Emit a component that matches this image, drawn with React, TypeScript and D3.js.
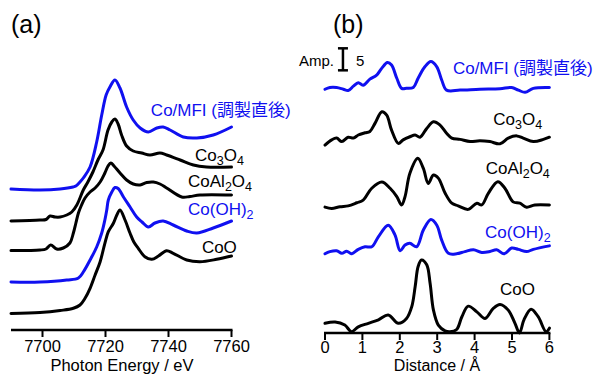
import * as d3 from 'd3';
import React from 'react';

// ---- (a) XANES, energy (eV) vs stacked normalized absorbance ----
const xanesCoMFI: [number, number][] = [
  [7690, 1.41], [7699.2, 1.40], [7705.6, 1.41], [7709.7, 1.43], [7710.6, 1.44], [7711.9, 1.48],
  [7712.95, 1.52], [7715.1, 1.63], [7717.2, 1.88], [7718.8, 2.15], [7720.2, 2.35], [7721.4, 2.43],
  [7723.0, 2.50], [7724.6, 2.42], [7726.7, 2.23], [7728.8, 2.10], [7731.0, 2.02], [7733.6, 1.98],
  [7736.3, 2.02], [7738.3, 2.03], [7740.5, 2.00], [7744.7, 1.93], [7749.0, 1.92], [7754.2, 1.95],
  [7760, 2.03],
];
const xanesCo3O4: [number, number][] = [
  [7690, 1.09], [7699.2, 1.10], [7701.1, 1.105], [7702.4, 1.14], [7704.0, 1.13], [7705.6, 1.13],
  [7707.7, 1.15], [7709.3, 1.18], [7710.9, 1.25], [7712.95, 1.40], [7714.4, 1.48], [7716.0, 1.58],
  [7717.6, 1.70], [7719.2, 1.80], [7720.8, 2.00], [7722.0, 2.08], [7723.0, 2.11], [7724.0, 2.06],
  [7725.1, 1.95], [7726.7, 1.84], [7728.8, 1.79], [7731.5, 1.77], [7734.1, 1.75], [7737.3, 1.77],
  [7739.4, 1.75], [7743.7, 1.70], [7747.9, 1.65], [7752.1, 1.63], [7760, 1.63],
];
const xanesCoAl2O4: [number, number][] = [
  [7690, 0.795], [7699.2, 0.80], [7701.1, 0.81], [7702.6, 0.85], [7704.5, 0.81], [7706.6, 0.82],
  [7708.7, 0.87], [7709.8, 0.97], [7710.6, 1.07], [7711.4, 1.17], [7712.4, 1.25], [7713.5, 1.32],
  [7715.1, 1.38], [7716.7, 1.42], [7718.3, 1.48], [7719.8, 1.57], [7720.8, 1.64], [7721.7, 1.67],
  [7722.7, 1.64], [7724.6, 1.57], [7726.7, 1.50], [7728.8, 1.46], [7731.0, 1.45], [7733.1, 1.475],
  [7735.2, 1.48], [7737.3, 1.46], [7739.4, 1.42], [7744.2, 1.33], [7746.8, 1.335], [7750, 1.35],
  [7760, 1.35],
];
const xanesCoOH2: [number, number][] = [
  [7690, 0.48], [7699.2, 0.48], [7707.7, 0.50], [7711.4, 0.52], [7712.95, 0.58], [7715.1, 0.70],
  [7717.2, 0.83], [7718.8, 0.97], [7719.8, 1.10], [7720.4, 1.20], [7720.9, 1.30], [7722.0, 1.38],
  [7723.0, 1.425], [7724.0, 1.415], [7725.7, 1.33], [7727.8, 1.23], [7729.9, 1.13], [7731.6, 1.08],
  [7733.6, 1.03], [7735.7, 1.07], [7738.3, 1.09], [7741.5, 1.05], [7745.8, 0.99], [7749.0, 0.97],
  [7754.2, 1.02], [7760, 1.09],
];
const xanesCoO: [number, number][] = [
  [7690, 0.165], [7699.2, 0.175], [7705.6, 0.195], [7709.8, 0.217], [7711.9, 0.25], [7713.5, 0.317],
  [7715.1, 0.417], [7716.7, 0.55], [7718.3, 0.683], [7719.8, 0.867], [7720.9, 0.983], [7722.5, 1.067],
  [7723.6, 1.15], [7724.6, 1.20], [7726.2, 1.10], [7727.8, 0.967], [7729.0, 0.88], [7730.4, 0.817],
  [7732.5, 0.733], [7734.7, 0.707], [7736.8, 0.74], [7739.4, 0.793], [7741.5, 0.767], [7745.8, 0.70],
  [7750, 0.683], [7755.3, 0.707], [7760, 0.74],
];

// ---- (b) EXAFS FT, distance (Å) vs stacked amplitude ----
const ftCoMFI: [number, number][] = [
  [0, 55.4], [0.13, 55.8], [0.31, 55.8], [0.49, 55.4], [0.62, 55.1], [0.76, 56.1], [0.89, 56.9],
  [1.02, 56.3], [1.20, 57.7], [1.38, 58.6], [1.52, 60.2], [1.67, 61.5], [1.78, 60.9], [1.92, 57.9],
  [2.05, 55.6], [2.18, 55.6], [2.36, 55.8], [2.49, 57.9], [2.67, 60.5], [2.83, 61.7], [2.99, 60.5],
  [3.12, 57.5], [3.25, 55.2], [3.61, 55.2], [4.14, 55.4], [4.68, 55.5], [4.99, 55.8], [5.17, 55.2],
  [5.35, 54.7], [5.57, 55.6], [6.0, 55.8],
];
const ftCo3O4: [number, number][] = [
  [0, 42.7], [0.18, 43.9], [0.31, 44.3], [0.45, 43.5], [0.62, 44.5], [0.76, 44.3], [0.89, 45.0],
  [1.07, 45.5], [1.20, 45.8], [1.34, 47.7], [1.52, 50.3], [1.65, 49.5], [1.78, 46.1], [1.96, 43.1],
  [2.09, 43.9], [2.27, 44.6], [2.41, 45.0], [2.54, 44.5], [2.72, 46.5], [2.90, 48.0], [3.07, 47.3],
  [3.25, 45.4], [3.39, 44.3], [3.61, 44.0], [3.88, 43.5], [4.14, 43.7], [4.41, 43.5], [4.68, 43.0],
  [4.90, 44.3], [5.13, 44.8], [5.30, 44.3], [5.57, 43.5], [5.84, 44.0], [6.0, 44.5],
];
const ftCoAl2O4: [number, number][] = [
  [0, 28.6], [0.18, 28.3], [0.40, 28.7], [0.62, 28.9], [0.85, 29.6], [1.02, 30.2], [1.25, 32.9],
  [1.52, 34.3], [1.74, 32.9], [1.92, 31.0], [2.05, 29.1], [2.14, 31.0], [2.27, 36.3], [2.48, 39.7],
  [2.63, 37.4], [2.76, 34.0], [2.90, 35.9], [3.03, 35.2], [3.21, 31.8], [3.39, 29.5], [3.56, 28.9],
  [3.83, 28.1], [4.06, 29.5], [4.19, 29.1], [4.37, 31.8], [4.62, 34.4], [4.81, 32.9], [5.03, 29.8],
  [5.21, 29.5], [5.39, 28.6], [5.61, 29.1], [6.0, 29.1],
];
const ftCoOH2: [number, number][] = [
  [0, 18.0], [0.13, 18.5], [0.31, 18.7], [0.45, 18.1], [0.58, 18.6], [0.71, 18.0], [0.89, 19.0],
  [1.07, 19.6], [1.25, 19.6], [1.43, 21.9], [1.69, 24.5], [1.87, 22.3], [2.01, 18.7], [2.14, 20.0],
  [2.27, 20.4], [2.45, 19.6], [2.63, 23.4], [2.83, 25.8], [2.99, 24.5], [3.12, 21.1], [3.30, 18.1],
  [3.52, 18.0], [3.74, 18.5], [3.97, 18.9], [4.19, 18.3], [4.41, 18.5], [4.59, 18.9], [4.79, 18.0],
  [4.99, 19.3], [5.17, 19.0], [5.39, 18.5], [5.57, 19.0], [6.0, 19.8],
];
const ftCoO: [number, number][] = [
  [0, 2.2], [0.27, 2.5], [0.53, 1.8], [0.71, 0.3], [0.89, 1.4], [1.16, 2.2], [1.43, 3.0],
  [1.69, 4.1], [1.96, 2.2], [2.18, 3.3], [2.32, 6.0], [2.41, 10.5], [2.49, 15.1], [2.58, 16.6],
  [2.72, 15.5], [2.81, 11.3], [2.90, 5.2], [3.03, 1.8], [3.21, 0.5], [3.34, 0.3], [3.52, 0.8],
  [3.66, 3.7], [3.83, 6.1], [4.06, 4.8], [4.28, 3.3], [4.50, 5.6], [4.68, 6.5], [4.90, 5.2],
  [5.08, 2.2], [5.20, 0], [5.32, 3.0], [5.51, 5.4], [5.70, 3.7], [5.91, 0.3], [6.0, 1.1],
];

const energyTicks = [7700, 7720, 7740, 7760];
const distanceTicks = [0, 1, 2, 3, 4, 5, 6];
const ampBar = 5;

// label text: segments of [text, isSubscript]
type Seg = [string, boolean];
const labelCoMFI: Seg[] = [['Co/MFI (調製直後)', false]];
const labelCo3O4: Seg[] = [['Co', false], ['3', true], ['O', false], ['4', true]];
const labelCoAl2O4: Seg[] = [['CoAl', false], ['2', true], ['O', false], ['4', true]];
const labelCoOH2: Seg[] = [['Co(OH)', false], ['2', true]];
const labelCoO: Seg[] = [['CoO', false]];

const BLUE = '#1010f0';
const FONT = '"Liberation Sans", Arial, "Noto Sans CJK JP", sans-serif';

// series with label anchor points (data coords)
const xanesSeries = [
  { data: xanesCoMFI, color: BLUE, label: labelCoMFI, at: [7734.4, 2.14] },
  { data: xanesCo3O4, color: '#000', label: labelCo3O4, at: [7748.4, 1.69] },
  { data: xanesCoAl2O4, color: '#000', label: labelCoAl2O4, at: [7746.2, 1.43] },
  { data: xanesCoOH2, color: BLUE, label: labelCoOH2, at: [7746.2, 1.15] },
  { data: xanesCoO, color: '#000', label: labelCoO, at: [7750.6, 0.77] },
];
const ftSeries = [
  { data: ftCoMFI, color: BLUE, label: labelCoMFI, at: [3.42, 58.9] },
  { data: ftCo3O4, color: '#000', label: labelCo3O4, at: [4.5, 47.3] },
  { data: ftCoAl2O4, color: '#000', label: labelCoAl2O4, at: [4.3, 36.1] },
  { data: ftCoOH2, color: BLUE, label: labelCoOH2, at: [4.28, 21.5] },
  { data: ftCoO, color: '#000', label: labelCoO, at: [4.68, 8.6] },
];

function Label({ x, y, segs, color }: { x: number; y: number; segs: Seg[]; color: string }) {
  let shifted = false;
  return (
    <text x={x} y={y} fill={color} fontSize={17} fontFamily={FONT}>
      {segs.map(([t, sub], i) => {
        let dy = 0;
        if (sub && !shifted) { dy = 4; shifted = true; }
        else if (!sub && shifted) { dy = -4; shifted = false; }
        return (
          <tspan key={i} dy={dy} fontSize={sub ? 12.5 : 17}>{t}</tspan>
        );
      })}
    </text>
  );
}

export default function App() {
  const W = 596, H = 374;

  const xA = d3.scaleLinear().domain([7690, 7760]).range([11, 231.5]);
  const yA = d3.scaleLinear().domain([0, 2.6]).range([330, 70]);
  const xB = d3.scaleLinear().domain([0, 6]).range([325, 549.4]);
  const yB = d3.scaleLinear().domain([0, 60]).range([333, 69]);

  const lineA = d3.line<[number, number]>().x(d => xA(d[0])).y(d => yA(d[1])).curve(d3.curveCatmullRom.alpha(0.5));
  const lineB = d3.line<[number, number]>().x(d => xB(d[0])).y(d => yB(d[1])).curve(d3.curveCatmullRom.alpha(0.5));

  const axisYA = yA(0);
  const axisYB = yB(0);

  return (
    <svg width={W} height={H} style={{ position: 'absolute', left: 0, top: 0, background: '#fff' }}
      fontFamily={FONT}>
      <text x={11} y={33} fontSize={25}>(a)</text>
      <text x={333} y={33} fontSize={25}>(b)</text>

      {/* panel a */}
      {xanesSeries.map((s, i) => (
        <path key={i} d={lineA(s.data) || ''} fill="none" stroke={s.color} strokeWidth={3}
          strokeLinejoin="round" strokeLinecap="round" />
      ))}
      {xanesSeries.map((s, i) => (
        <Label key={i} x={xA(s.at[0])} y={yA(s.at[1])} segs={s.label} color={s.color} />
      ))}
      <line x1={xA(7690)} x2={xA(7760) + 1} y1={axisYA} y2={axisYA} stroke="#000" strokeWidth={2.5} />
      {energyTicks.map(t => (
        <g key={t}>
          <line x1={xA(t)} x2={xA(t)} y1={axisYA} y2={axisYA + 7} stroke="#000" strokeWidth={2} />
          <text x={xA(t)} y={352} textAnchor="middle" fontSize={16.5}>{t}</text>
        </g>
      ))}
      <text x={122} y={371} textAnchor="middle" fontSize={16.5}>Photon Energy / eV</text>

      {/* panel b */}
      {ftSeries.map((s, i) => (
        <path key={i} d={lineB(s.data) || ''} fill="none" stroke={s.color} strokeWidth={3}
          strokeLinejoin="round" strokeLinecap="round" />
      ))}
      {ftSeries.map((s, i) => (
        <Label key={i} x={xB(s.at[0])} y={yB(s.at[1])} segs={s.label} color={s.color} />
      ))}
      <line x1={xB(0) - 1} x2={xB(6) + 1} y1={axisYB} y2={axisYB} stroke="#000" strokeWidth={2.5} />
      {distanceTicks.map(t => (
        <g key={t}>
          <line x1={xB(t)} x2={xB(t)} y1={axisYB} y2={axisYB + 7} stroke="#000" strokeWidth={2} />
          <text x={xB(t)} y={353} textAnchor="middle" fontSize={16.5}>{t}</text>
        </g>
      ))}
      <text x={437} y={371} textAnchor="middle" fontSize={16}>Distance / Å</text>

      {/* amplitude scale bar */}
      <g stroke="#000" strokeWidth={2.5}>
        <line x1={xB(0.48)} x2={xB(0.48)} y1={yB(59.7)} y2={yB(59.7 + ampBar)} />
        <line x1={xB(0.48) - 5} x2={xB(0.48) + 5} y1={yB(59.7)} y2={yB(59.7)} />
        <line x1={xB(0.48) - 5} x2={xB(0.48) + 5} y1={yB(59.7 + ampBar)} y2={yB(59.7 + ampBar)} />
      </g>
      <text x={xB(0.48) - 9} y={66} textAnchor="end" fontSize={15}>Amp.</text>
      <text x={xB(0.48) + 13} y={66} fontSize={15}>{ampBar}</text>
    </svg>
  );
}
